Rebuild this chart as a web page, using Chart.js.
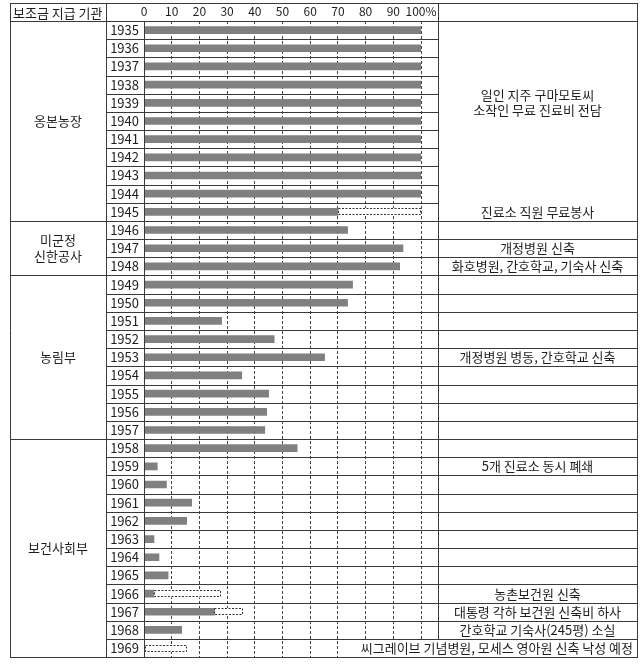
<!DOCTYPE html>
<html>
<head>
<meta charset="utf-8">
<script src="https://cdn.jsdelivr.net/npm/chart.js@4"></script>
<style>
  html, body { margin: 0; padding: 0; background: #fff; }
  canvas { display: block; }
</style>
</head>
<body>
<canvas id="chart" width="643" height="670"></canvas>
<script>
const years = ['1935','1936','1937','1938','1939','1940','1941','1942','1943','1944','1945',
  '1946','1947','1948',
  '1949','1950','1951','1952','1953','1954','1955','1956','1957',
  '1958','1959','1960','1961','1962','1963','1964','1965','1966','1967','1968','1969'];

// share of the clinic budget paid by the agency (%)
const actual = [100,100,100,100,100,100,100,100,100,100,70,
  73.5,93.5,92.3,
  75.3,73.5,28,47,65.2,35.3,45,44.3,43.6,
  55.3,4.8,8.1,17.2,15.4,3.6,5.4,8.7,3.6,25.4,13.6,null];

// dashed part: planned / expected total (%)
const planned = [null,null,null,null,null,null,null,null,null,null,100,
  null,null,null,
  null,null,null,null,null,null,null,null,null,
  null,null,null,null,null,null,null,null,27.7,35.7,null,15.4];

const xTicks = ['0','10','20','30','40','50','60','70','80','90','100%'];

const groupNames = ['옹본농장', '미군정\n신한공사', '농림부', '보건사회부'];
const groupFirst = ['1935', '1946', '1949', '1958'];
const groupLast = ['1945', '1948', '1957', '1969'];

const headerText = '보조금 지급 기관';
const mergedNote = ['일인 지주 구마모토씨', '소작인 무료 진료비 전담'];
const mergedFrom = '1935', mergedTo = '1945', mergedAt = '1939';

const notes = ['','','','','','','','','','','진료소 직원 무료봉사',
  '','개정병원 신축','화호병원, 간호학교, 기숙사 신축',
  '','','','','개정병원 병동, 간호학교 신축','','','','',
  '','5개 진료소 동시 폐쇄','','','','','','','농촌보건원 신축','대통령 각하 보건원 신축비 하사','간호학교 기숙사(245평) 소실','씨그레이브 기념병원, 모세스 영아원 신축 낙성 예정'];

const FONT = "'Noto Sans CJK KR', 'Noto Sans', sans-serif";
const LINE = '#3a3a3a';
const TEXT = '#1e1e1e';

const tablePlugin = {
  id: 'table',
  afterDatasetsDraw(chart) {
    const ctx = chart.ctx;
    const meta = chart.getDatasetMeta(1);
    ctx.save();
    ctx.strokeStyle = '#333';
    ctx.lineWidth = 1;
    ctx.setLineDash([2, 1.5]);
    meta.data.forEach((el, i) => {
      if (planned[i] == null) return;
      const p = el.getProps(['x', 'base', 'y', 'height'], true);
      const l = Math.round(Math.min(p.x, p.base));
      const r = Math.round(Math.max(p.x, p.base));
      const t = Math.round(p.y - p.height / 2);
      ctx.strokeRect(l + 0.5, t + 0.5, r - l - 1, Math.round(p.height) - 1);
    });
    ctx.restore();
  },
  afterDraw(chart) {
    const ctx = chart.ctx;
    const ys = chart.scales.y;
    const step = ys.getPixelForValue(1) - ys.getPixelForValue(0);
    const rowTop = i => ys.getPixelForValue(i) - step / 2;
    const L = 10, C1 = 106, C2 = Math.round(chart.chartArea.left), C3 = 438, R = 637, T = 3;
    const H = Math.round(chart.chartArea.top);
    const B = Math.round(rowTop(years.length - 1) + step);

    ctx.save();
    ctx.strokeStyle = LINE;
    ctx.lineWidth = 1;
    const hline = (x1, x2, y) => {
      const yy = Math.round(y) + 0.5;
      ctx.beginPath(); ctx.moveTo(x1, yy); ctx.lineTo(x2 + 1, yy); ctx.stroke();
    };
    const vline = (x, y1, y2) => {
      const xx = Math.round(x) + 0.5;
      ctx.beginPath(); ctx.moveTo(xx, y1); ctx.lineTo(xx, y2 + 1); ctx.stroke();
    };

    const starts = groupFirst.map(y => years.indexOf(y));
    const mFrom = years.indexOf(mergedFrom), mTo = years.indexOf(mergedTo);
    for (let i = 1; i < years.length; i++) {
      const y = rowTop(i);
      if (starts.includes(i)) hline(L, R, y);
      else if (i > mFrom && i <= mTo) hline(C1, C3, y);
      else hline(C1, R, y);
    }
    hline(L, R, T);
    hline(L, R, H);
    hline(L, R, B);
    vline(L, T, B);
    vline(C1, T, B);
    vline(C2, H, B);
    vline(C3, T, B);
    vline(R, T, B);

    ctx.fillStyle = TEXT;
    ctx.textBaseline = 'middle';
    ctx.font = '13px ' + FONT;
    ctx.textAlign = 'left';
    ctx.fillText(headerText, 13, (T + H) / 2 + 1);

    // agency groups
    ctx.textAlign = 'center';
    groupNames.forEach((name, g) => {
      const a = years.indexOf(groupFirst[g]);
      const b = years.indexOf(groupLast[g]);
      const cy = (rowTop(a) + rowTop(b) + step) / 2;
      const lines = name.split('\n');
      lines.forEach((ln, k) => {
        ctx.fillText(ln, (L + C1) / 2, cy + (k - (lines.length - 1) / 2) * 16);
      });
    });

    // notes
    const mc = ys.getPixelForValue(years.indexOf(mergedAt));
    mergedNote.forEach((ln, k) => {
      ctx.fillText(ln, (C3 + R) / 2, mc + (k - (mergedNote.length - 1) / 2) * 15);
    });
    notes.forEach((txt, i) => {
      if (!txt) return;
      const cy = ys.getPixelForValue(i);
      const w = ctx.measureText(txt).width;
      if (w > R - C3 - 8) {
        const right = R - 4;
        ctx.fillStyle = '#fff';
        ctx.fillRect(right - w - 4, Math.round(rowTop(i)) + 1, R - (right - w - 4), Math.round(step) - 1);
        ctx.fillStyle = TEXT;
        ctx.textAlign = 'right';
        ctx.fillText(txt, right, cy);
        ctx.textAlign = 'center';
      } else {
        ctx.fillText(txt, (C3 + R) / 2, cy);
      }
    });
    ctx.restore();
  }
};

new Chart(document.getElementById('chart'), {
  type: 'bar',
  data: {
    labels: years,
    datasets: [
      {
        label: 'actual',
        data: actual,
        backgroundColor: '#808080',
        barThickness: 7,
        grouped: false
      },
      {
        label: 'planned',
        data: planned.map((p, i) => p == null ? null : [actual[i] || 0, p]),
        backgroundColor: '#ffffff',
        barThickness: 7,
        grouped: false
      }
    ]
  },
  options: {
    indexAxis: 'y',
    responsive: false,
    animation: false,
    events: [],
    layout: { padding: { left: 106, right: 222, top: 3, bottom: 5 } },
    plugins: { legend: { display: false }, tooltip: { enabled: false } },
    scales: {
      x: {
        position: 'top',
        min: 0,
        max: 100,
        afterFit: s => { s.height = 18; },
        afterBuildTicks: s => { s.ticks = xTicks.map((t, i) => ({ value: i * 10 })); },
        ticks: {
          callback: (v, i) => xTicks[i],
          font: { size: 12, family: FONT },
          color: TEXT,
          padding: 2,
          maxRotation: 0,
          autoSkip: false
        },
        grid: { color: '#444', lineWidth: 1, drawTicks: false },
        border: { display: false, dash: [3, 2] }
      },
      y: {
        afterFit: s => { s.width = 38; },
        ticks: {
          font: { size: 13, family: FONT },
          color: TEXT,
          padding: 5,
          autoSkip: false
        },
        grid: { display: false, drawTicks: false },
        border: { display: false }
      }
    }
  },
  plugins: [tablePlugin]
});
</script>
</body>
</html>
